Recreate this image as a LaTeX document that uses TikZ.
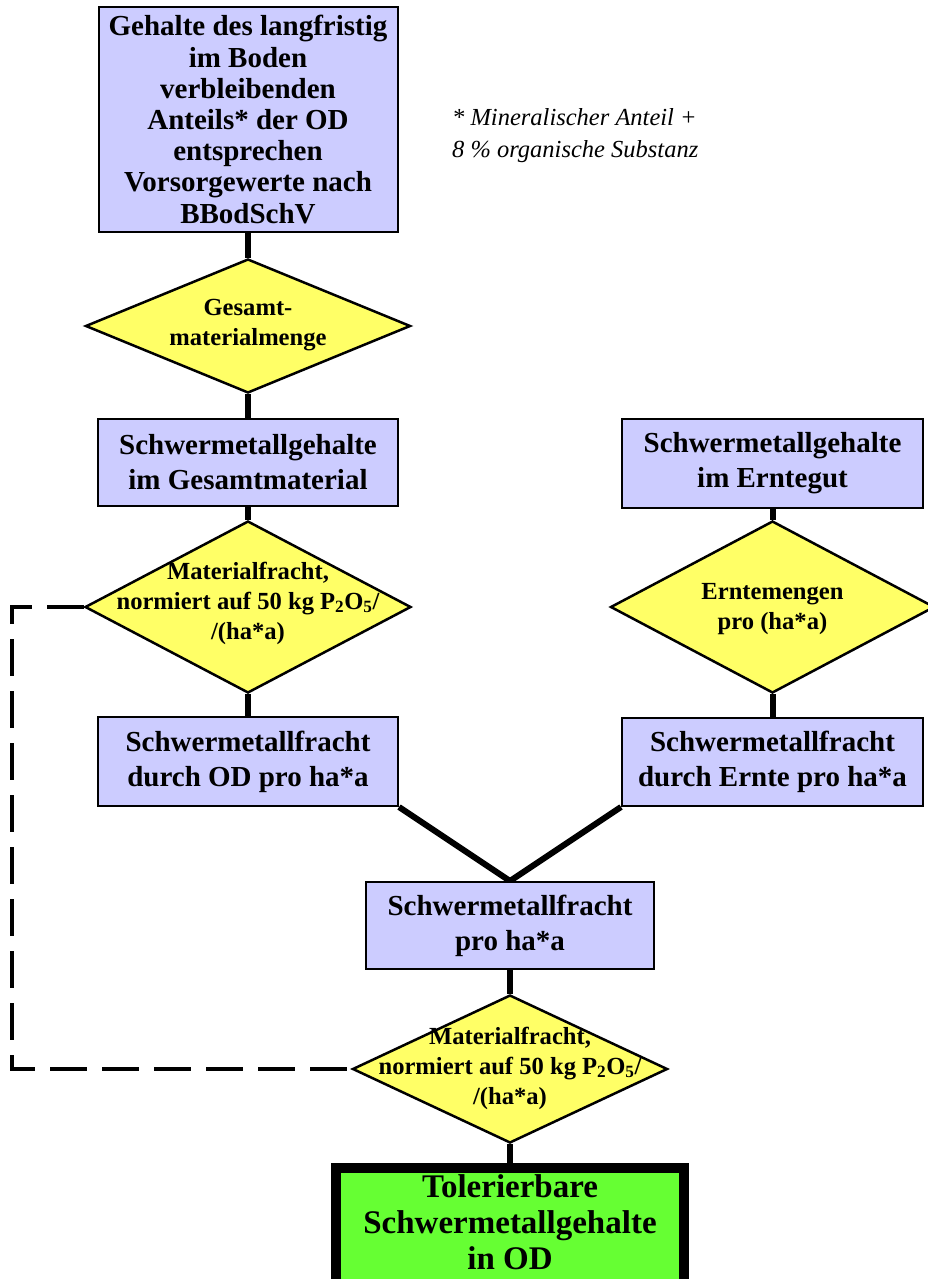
\documentclass[tikz,border=0pt]{standalone}
\usepackage{fontspec}
\setmainfont{Liberation Serif}
\usetikzlibrary{shapes.geometric,backgrounds}
\definecolor{boxfill}{HTML}{CCCCFF}
\definecolor{diafill}{HTML}{FFFF66}
\definecolor{tolfill}{HTML}{66FF33}
\begin{document}
\begin{tikzpicture}[x=1pt,y=-1pt,
  box/.style={draw=black, line width=2pt, fill=boxfill, align=center, inner sep=0pt,
    font=\bfseries\fontsize{29}{35}\selectfont},
  dia/.style={diamond, draw=black, line width=2.5pt, fill=diafill, inner sep=0pt},
  diatext/.style={font=\bfseries\fontsize{24.6}{30}\selectfont, align=center, inner sep=0pt},
  conn/.style={line width=6pt},
  feedback/.style={line width=4pt, dash pattern=on 37pt off 15pt}]
\useasboundingbox (0,0) rectangle (927,1279);
% left column
\node[box, minimum width=299pt, minimum height=225pt, font=\bfseries\fontsize{29}{31.2}\selectfont] (top) at (248,119.5)
  {Gehalte des langfristig\\im Boden\\verbleibenden\\Anteils* der OD\\entsprechen\\Vorsorgewerte nach\\BBodSchV};
\node[dia, minimum width=325pt, minimum height=134pt] (d1) at (248,326) {};
\node[diatext] (d1t) at (248,325) {Gesamt-\\materialmenge};
\node[box, minimum width=300pt, minimum height=87pt] (b2) at (248,462.5) {Schwermetallgehalte\\im Gesamtmaterial};
\node[dia, minimum width=326pt, minimum height=172pt] (d2) at (248,607) {};
\node[diatext] (d2t) at (248,603) {Materialfracht,\\normiert auf 50 kg P\textsubscript{2}O\textsubscript{5}/\\/(ha*a)};
\node[box, minimum width=300pt, minimum height=89pt] (b3) at (248,761.5) {Schwermetallfracht\\durch OD pro ha*a};
% right column
\node[box, minimum width=301pt, minimum height=89pt] (r1) at (772.5,463.5) {Schwermetallgehalte\\im Erntegut};
\node[dia, minimum width=324pt, minimum height=172pt] (rd) at (772.5,607) {};
\node[diatext] (rdt) at (772.5,609) {Erntemengen\\pro (ha*a)};
\node[box, minimum width=301pt, minimum height=88pt] (r3) at (772.5,762) {Schwermetallfracht\\durch Ernte pro ha*a};
% centre
\node[box, minimum width=288pt, minimum height=87pt] (c) at (510,925.5) {Schwermetallfracht\\pro ha*a};
\node[dia, minimum width=315pt, minimum height=148pt] (d4) at (510,1069) {};
\node[diatext] (d4t) at (510,1068) {Materialfracht,\\normiert auf 50 kg P\textsubscript{2}O\textsubscript{5}/\\/(ha*a)};
\node[draw=black, line width=10pt, fill=tolfill, minimum width=348pt, minimum height=116pt, inner sep=0pt] (tol) at (510,1226) {};
\node[font=\bfseries\fontsize{33}{36}\selectfont, align=center, inner sep=0pt] (tolt) at (510,1222)
  {Tolerierbare\\Schwermetallgehalte\\in OD};
% footnote
\node[anchor=north west, inner sep=0pt, align=left, font=\itshape\fontsize{24.5}{32}\selectfont] (note) at (452,108)
  {* Mineralischer Anteil +\\8 \% organische Substanz};
% connectors
\coordinate (fb1) at (12,607);
\coordinate (fb2) at (12,1069);
\begin{pgfonlayer}{background}
\draw[conn] (top.south) -- (d1.north);
\draw[conn] (d1.south) -- (b2.north);
\draw[conn] (b2.south) -- (d2.north);
\draw[conn] (d2.south) -- (b3.north);
\draw[conn] (r1.south) -- (rd.north);
\draw[conn] (rd.south) -- (r3.north);
\draw[conn] (b3.south east) -- (c.north);
\draw[conn] (r3.south west) -- (c.north);
\draw[conn] (c.south) -- (d4.north);
\draw[conn] (d4.south) -- (tol.north);
\end{pgfonlayer}
\draw[feedback] (d2.west) -- (fb1) -- (fb2) -- (d4.west);
\end{tikzpicture}
\end{document}
